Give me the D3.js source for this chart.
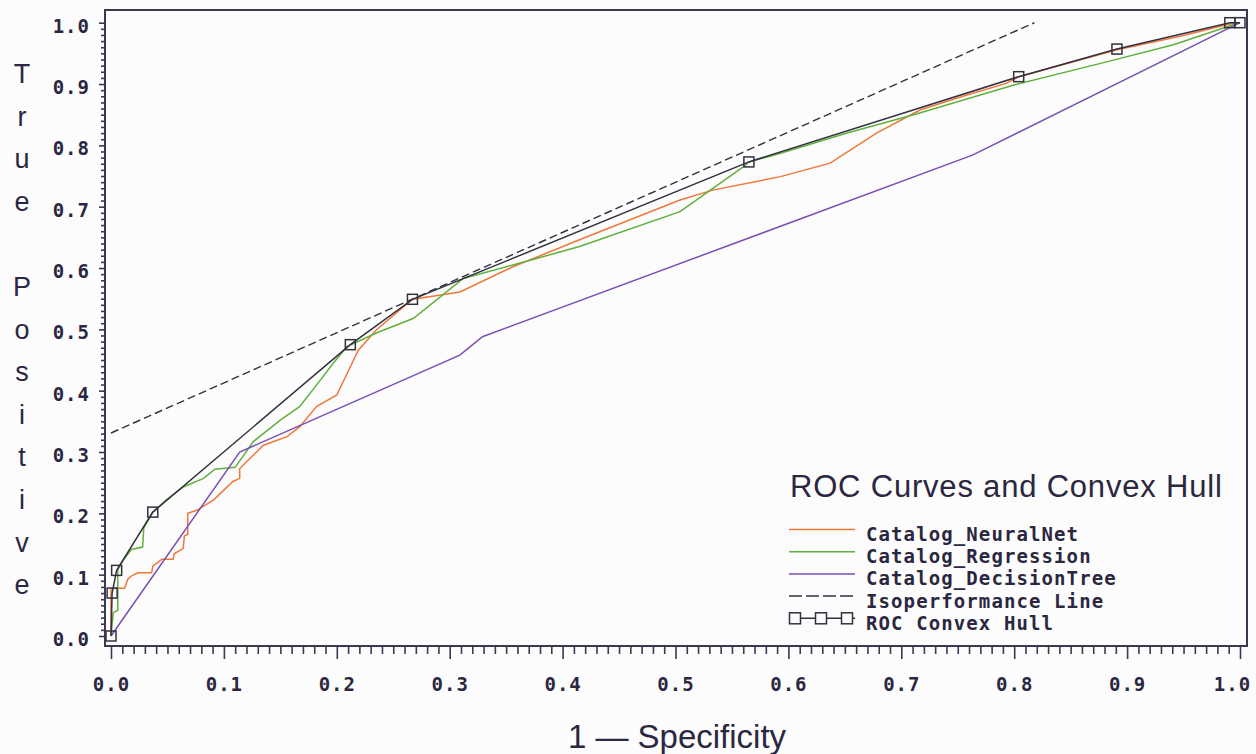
<!DOCTYPE html>
<html>
<head>
<meta charset="utf-8">
<script src="https://cdn.jsdelivr.net/npm/d3@7"></script>
<style>
  body { margin: 0; background: #fcfcfc; }
  svg { display: block; }
  .axis .tick text {
    font-family: 'DejaVu Sans Mono', monospace;
    font-weight: bold;
    font-size: 19px;
    letter-spacing: 1px;
    fill: #2b2740;
  }
  .axis .tick line { stroke: #3d3852; stroke-width: 1.6; }
</style>
</head>
<body>
<div id="chart"></div>
<script>
// ROC curves: [1 - specificity, true positive]
const tickValues = [0, 0.1, 0.2, 0.3, 0.4, 0.5, 0.6, 0.7, 0.8, 0.9, 1.0]

const neuralNet = [
  [0, 0], [0, 0.075], [0.002, 0.078], [0.012, 0.078], [0.015, 0.093], [0.019, 0.099],
  [0.024, 0.103], [0.036, 0.103], [0.037, 0.114], [0.045, 0.125], [0.055, 0.125],
  [0.056, 0.134], [0.064, 0.143], [0.065, 0.163], [0.068, 0.166], [0.068, 0.200],
  [0.076, 0.205], [0.091, 0.222], [0.108, 0.252], [0.114, 0.257], [0.114, 0.273],
  [0.135, 0.311], [0.156, 0.325], [0.167, 0.341], [0.182, 0.374], [0.200, 0.393],
  [0.212, 0.439], [0.219, 0.466], [0.235, 0.499], [0.267, 0.549], [0.285, 0.554],
  [0.309, 0.561], [0.356, 0.602], [0.415, 0.646], [0.504, 0.711], [0.533, 0.727],
  [0.593, 0.749], [0.637, 0.771], [0.678, 0.820], [0.717, 0.858], [0.758, 0.882],
  [0.793, 0.901], [0.804, 0.912], [0.891, 0.956], [0.947, 0.978], [0.991, 0.998], [1, 1]
]

const regression = [
  [0, 0], [0.002, 0.038], [0.006, 0.042], [0.006, 0.108], [0.011, 0.124], [0.018, 0.141],
  [0.028, 0.145], [0.029, 0.176], [0.037, 0.202], [0.049, 0.222], [0.064, 0.243],
  [0.082, 0.257], [0.092, 0.272], [0.110, 0.275], [0.126, 0.317], [0.150, 0.352],
  [0.167, 0.374], [0.182, 0.409], [0.197, 0.445], [0.209, 0.472], [0.235, 0.494],
  [0.268, 0.518], [0.312, 0.583], [0.356, 0.605], [0.415, 0.635], [0.504, 0.692],
  [0.560, 0.765], [0.565, 0.773], [0.593, 0.787], [0.652, 0.820], [0.711, 0.850],
  [0.799, 0.898], [0.888, 0.939], [0.941, 0.964], [0.988, 0.993], [1, 1]
]

const decisionTree = [
  [0, 0], [0.114, 0.300], [0.309, 0.458], [0.329, 0.488], [0.763, 0.784], [1, 1]
]

const isoLine = [[0, 0.331], [0.818, 1.0]]

const convexHull = [
  [0, 0], [0.001, 0.070], [0.005, 0.107], [0.037, 0.202], [0.212, 0.475], [0.267, 0.549],
  [0.565, 0.773], [0.804, 0.912], [0.891, 0.957], [0.991, 1.0], [1.0, 1.0]
]

const legendNames = ['Catalog_NeuralNet', 'Catalog_Regression', 'Catalog_DecisionTree',
  'Isoperformance Line', 'ROC Convex Hull']

const w = 1256
const h = 754
const ink = '#2b2740'
const frameColor = '#3d3852'
const colors = ['#f0763a', '#5fb03c', '#7a4fb5']

const svg = d3.select('#chart')
  .append('svg')
  .attr('width', w)
  .attr('height', h)
  .style('background', '#fcfcfc')

const xScale = d3.scaleLinear().domain([0, 1]).range([111, 1240])
const yScale = d3.scaleLinear().domain([0, 1]).range([636, 22.7])

const frame = { left: 105, right: 1247, top: 10, bottom: 646 }

const minorTicks = d3.range(0, 101).filter(i => i % 10 !== 0).map(i => i / 100)

// minor ticks
svg.append('g')
  .attr('class', 'axis')
  .attr('transform', 'translate(' + frame.left + ',0)')
  .call(d3.axisLeft(yScale).tickValues(minorTicks).tickSize(4).tickFormat(''))
  .call(g => g.select('.domain').remove())

svg.append('g')
  .attr('class', 'axis')
  .attr('transform', 'translate(0,' + frame.bottom + ')')
  .call(d3.axisBottom(xScale).tickValues(minorTicks).tickSize(8).tickFormat(''))
  .call(g => g.select('.domain').remove())

// major ticks
svg.append('g')
  .attr('class', 'axis')
  .attr('transform', 'translate(' + frame.left + ',0)')
  .call(d3.axisLeft(yScale).tickValues(tickValues).tickSize(6).tickPadding(9).tickFormat(d3.format('.1f')))
  .call(g => g.select('.domain').remove())
  .selectAll('text')
  .attr('dy', '0.5em')

svg.append('g')
  .attr('class', 'axis')
  .attr('transform', 'translate(0,' + frame.bottom + ')')
  .call(d3.axisBottom(xScale).tickValues(tickValues).tickSize(13).tickPadding(19).tickFormat(d3.format('.1f')))
  .call(g => g.select('.domain').remove())
  .selectAll('text')
  .filter(d => d === 1)
  .attr('x', -8)

// frame
svg.append('rect')
  .attr('x', frame.left)
  .attr('y', frame.top)
  .attr('width', frame.right - frame.left)
  .attr('height', frame.bottom - frame.top)
  .attr('fill', 'none')
  .attr('stroke', frameColor)
  .attr('stroke-width', 2)

const line = d3.line()
  .x(d => xScale(d[0]))
  .y(d => yScale(d[1]))

svg.append('path')
  .datum(isoLine)
  .attr('d', line)
  .attr('fill', 'none')
  .attr('stroke', '#333040')
  .attr('stroke-width', 1.4)
  .attr('stroke-dasharray', '8,4')

const curves = [neuralNet, regression, decisionTree]
curves.forEach((c, i) => {
  svg.append('path')
    .datum(c)
    .attr('d', line)
    .attr('fill', 'none')
    .attr('stroke', colors[i])
    .attr('stroke-width', 1.5)
})

svg.append('path')
  .datum(convexHull)
  .attr('d', line)
  .attr('fill', 'none')
  .attr('stroke', '#333040')
  .attr('stroke-width', 1.5)

svg.selectAll('rect.hull')
  .data(convexHull)
  .enter()
  .append('rect')
  .attr('class', 'hull')
  .attr('x', d => xScale(d[0]) - 5)
  .attr('y', d => yScale(d[1]) - 5)
  .attr('width', 10)
  .attr('height', 10)
  .attr('fill', 'none')
  .attr('stroke', '#333040')
  .attr('stroke-width', 1.5)

// axis titles
svg.append('text')
  .text('1 \u2014 Specificity')
  .attr('x', 677)
  .attr('y', 748)
  .attr('text-anchor', 'middle')
  .style('font-family', 'Liberation Sans, Arial, sans-serif')
  .style('font-size', '33px')
  .style('fill', ink)

const yTitle = 'True Positive'.split('')
svg.selectAll('text.ytitle')
  .data(yTitle)
  .enter()
  .append('text')
  .attr('class', 'ytitle')
  .text(d => d)
  .attr('x', 22)
  .attr('y', (d, i) => 83 + i * 42.6)
  .attr('text-anchor', 'middle')
  .style('font-family', 'Liberation Sans, Arial, sans-serif')
  .style('font-size', '27px')
  .style('fill', ink)

// legend
svg.append('text')
  .text('ROC Curves and Convex Hull')
  .attr('x', 790)
  .attr('y', 497)
  .style('font-family', 'Liberation Sans, Arial, sans-serif')
  .style('font-size', '31px')
  .style('letter-spacing', '0.8px')
  .style('fill', ink)

const legend = svg.selectAll('g.legend')
  .data(legendNames)
  .enter()
  .append('g')
  .attr('class', 'legend')
  .attr('transform', (d, i) => 'translate(0,' + (541 + i * 22.2) + ')')

legend.append('text')
  .text(d => d)
  .attr('x', 866)
  .attr('y', 0)
  .style('font-family', 'DejaVu Sans Mono, monospace')
  .style('font-weight', 'bold')
  .style('font-size', '19px')
  .style('letter-spacing', '1.1px')
  .style('fill', ink)

legend.append('line')
  .attr('x1', 789)
  .attr('x2', 855)
  .attr('y1', -11.5)
  .attr('y2', -11.5)
  .attr('stroke', (d, i) => i < 3 ? colors[i] : '#333040')
  .attr('stroke-width', 1.5)
  .attr('stroke-dasharray', (d, i) => i === 3 ? '13,4' : null)

legend.filter((d, i) => i === 4)
  .selectAll('rect')
  .data([795, 821, 847])
  .enter()
  .append('rect')
  .attr('x', d => d - 5.5)
  .attr('y', -17)
  .attr('width', 11)
  .attr('height', 11)
  .attr('fill', '#fcfcfc')
  .attr('stroke', '#333040')
  .attr('stroke-width', 1.5)
</script>
</body>
</html>
